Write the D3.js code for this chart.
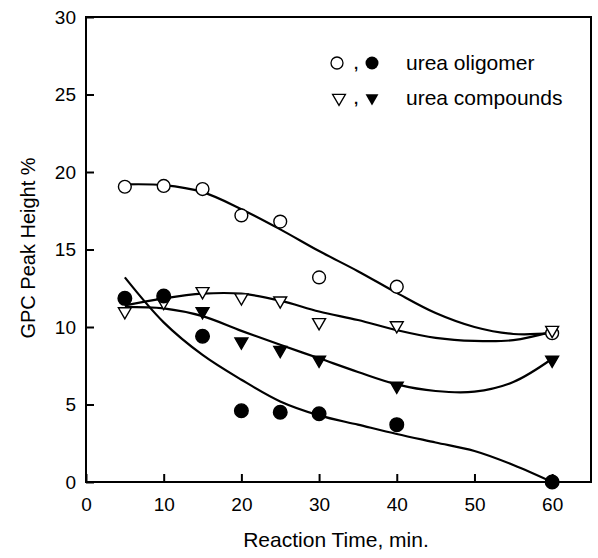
<!DOCTYPE html>
<html><head><meta charset="utf-8">
<script src="https://cdn.jsdelivr.net/npm/d3@7"></script>
<style>body{margin:0;background:#fff}svg{display:block}text{font-family:"Liberation Sans",Arial,sans-serif;fill:#000}</style>
</head><body>
<svg id="c" width="598" height="558"></svg>
<script>
// Data
const times = [5, 10, 15, 20, 25, 30, 40, 60];
const oligomerOpen   = [19.05, 19.1, 18.9, 17.2, 16.8, 13.2, 12.6, 9.6];
const oligomerFilled = [11.85, 12.0, 9.4, 4.6, 4.5, 4.4, 3.7, 0.0];
const compOpen       = [11.0, 11.6, 12.3, 11.9, 11.7, 10.3, 10.1, 9.8];
const compFilledT    = [15, 20, 25, 30, 40, 60];
const compFilled     = [11.0, 9.05, 8.5, 7.87, 6.2, 7.87];
// fitted curves
const curveT = [5, 10, 15, 20, 25, 30, 35, 40, 45, 50, 55, 60];
const fitOligomerOpen   = [19.2, 19.15, 18.7, 17.6, 16.3, 14.9, 13.6, 12.2, 10.9, 10.0, 9.55, 9.6];
const fitCompOpen       = [11.4, 11.85, 12.15, 12.15, 11.7, 11.0, 10.45, 9.8, 9.3, 9.1, 9.15, 9.7];
const fitCompFilled     = [11.3, 11.2, 10.7, 9.75, 8.85, 7.98, 7.1, 6.3, 5.87, 5.83, 6.45, 7.95];
const fitOligomerFilled = [13.2, 10.3, 8.2, 6.6, 5.2, 4.3, 3.7, 3.1, 2.55, 2.0, 1.1, 0.0];
const xTicks = [0, 10, 20, 30, 40, 50, 60];
const yTicks = [0, 5, 10, 15, 20, 25, 30];
const legendLabels = ["urea oligomer", "urea compounds"];

const svg = d3.select("#c");
const x = d3.scaleLinear().domain([0, 65]).range([86, 591]);
const y = d3.scaleLinear().domain([0, 30]).range([482, 17]);

// frame
svg.append("rect").attr("x", x(0)).attr("y", y(30)).attr("width", x(65) - x(0)).attr("height", y(0) - y(30))
  .attr("fill", "none").attr("stroke", "#000").attr("stroke-width", 2);

// axes
const xa = svg.append("g").attr("transform", `translate(0,${y(0)})`)
  .call(d3.axisBottom(x).tickValues(xTicks).tickSizeInner(-8).tickSizeOuter(0).tickPadding(16));
const ya = svg.append("g").attr("transform", `translate(${x(0)},0)`)
  .call(d3.axisLeft(y).tickValues(yTicks).tickSizeInner(-8).tickSizeOuter(0).tickPadding(10));
[xa, ya].forEach(g => {
  g.select(".domain").remove();
  g.selectAll(".tick line").attr("stroke", "#000").attr("stroke-width", 2);
  g.selectAll(".tick text").attr("font-size", 19).attr("font-family", "Liberation Sans, Arial, sans-serif").attr("fill", "#000");
});

// axis titles
svg.append("text").attr("x", 336).attr("y", 547).attr("text-anchor", "middle").attr("font-size", 21).text("Reaction Time, min.");
svg.append("text").attr("transform", "translate(35,248) rotate(-90)").attr("text-anchor", "middle").attr("font-size", 20).text("GPC Peak Height %");

// fitted curves
const line = d3.line().x(d => x(d[0])).y(d => y(d[1])).curve(d3.curveCatmullRom.alpha(0.5));
[fitOligomerOpen, fitCompOpen, fitCompFilled, fitOligomerFilled].forEach(arr => {
  svg.append("path").attr("d", line(curveT.map((t, i) => [t, arr[i]])))
    .attr("fill", "none").attr("stroke", "#000").attr("stroke-width", 2.2);
});

// markers
const tri = d3.symbol().type(d3.symbolTriangle).size(72);
function circles(ts, vals, filled) {
  svg.append("g").selectAll("circle").data(ts.map((t, i) => [t, vals[i]])).join("circle")
    .attr("cx", d => x(d[0])).attr("cy", d => y(d[1])).attr("r", filled ? 6.8 : 6.4)
    .attr("fill", filled ? "#000" : "#fff").attr("stroke", "#000").attr("stroke-width", 1.4);
}
function triangles(ts, vals, filled) {
  svg.append("g").selectAll("path").data(ts.map((t, i) => [t, vals[i]])).join("path")
    .attr("d", tri).attr("transform", d => `translate(${x(d[0])},${y(d[1])}) rotate(180)`)
    .attr("fill", filled ? "#000" : "#fff").attr("stroke", "#000").attr("stroke-width", 1.4);
}
circles(times, oligomerOpen, false);
triangles(times, compOpen, false);
circles(times, oligomerFilled, true);
triangles(compFilledT, compFilled, true);

// legend
const lg = svg.append("g");
const rows = [63, 98];
lg.append("circle").attr("cx", 337).attr("cy", rows[0]).attr("r", 6).attr("fill", "#fff").attr("stroke", "#000").attr("stroke-width", 1.3);
lg.append("circle").attr("cx", 372).attr("cy", rows[0]).attr("r", 6.5).attr("fill", "#000");
lg.append("path").attr("d", tri).attr("transform", `translate(339,${rows[1]}) rotate(180)`).attr("fill", "#fff").attr("stroke", "#000").attr("stroke-width", 1.3);
lg.append("path").attr("d", tri).attr("transform", `translate(372,${rows[1]}) rotate(180)`).attr("fill", "#000");
rows.forEach((ry, i) => {
  lg.append("text").attr("x", 354).attr("y", ry + 6).attr("font-size", 15).attr("font-weight", "bold").attr("fill", "#000").text(",");
  lg.append("text").attr("x", 406).attr("y", ry + 7).attr("font-size", 21).text(legendLabels[i]);
});
</script>
</body></html>
